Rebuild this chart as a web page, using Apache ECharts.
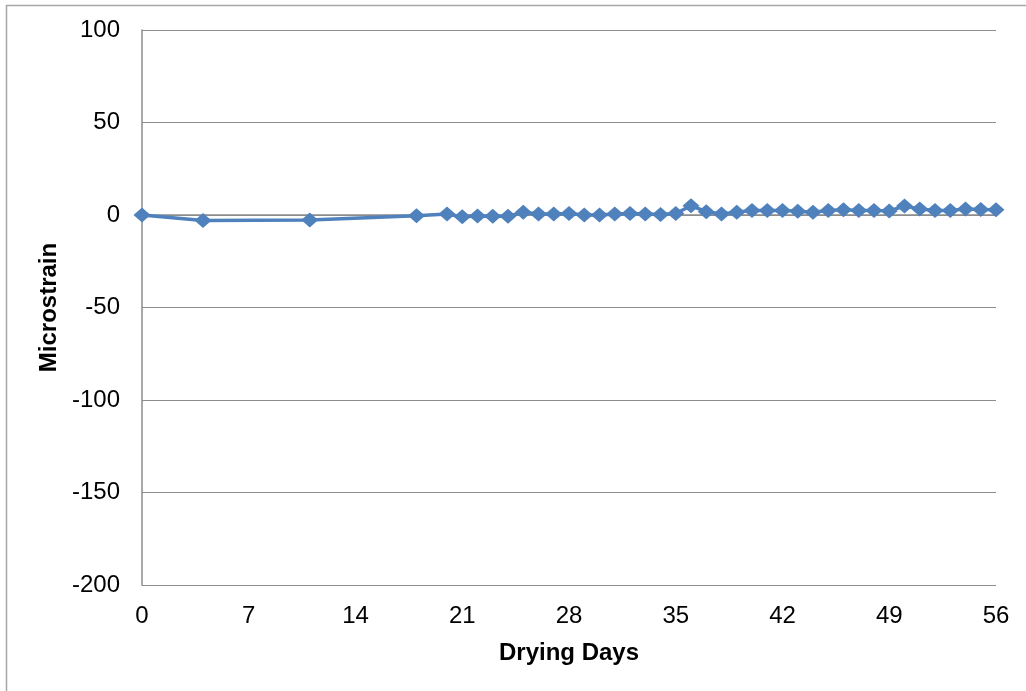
<!DOCTYPE html>
<html>
<head>
<meta charset="utf-8">
<script src="https://cdn.jsdelivr.net/npm/echarts@6/dist/echarts.min.js"></script>
<style>
  html, body { margin: 0; padding: 0; background: #ffffff; }
  #chart { width: 1026px; height: 691px; }
</style>
</head>
<body>
<div id="chart"></div>
<script>
// Drying days at which strain readings were taken
const days = [0, 4, 11, 18, 20, 21, 22, 23, 24, 25, 26, 27, 28, 29, 30, 31, 32, 33, 34, 35,
  36, 37, 38, 39, 40, 41, 42, 43, 44, 45, 46, 47, 48, 49, 50, 51, 52, 53, 54, 55, 56];
// Measured microstrain at each reading
const strain = [0, -3, -2.7, -0.4, 0.5, -1, -0.5, -0.7, -0.7, 1.5, 0.5, 0.5, 0.8, 0, 0, 0.5,
  0.8, 0.5, 0.3, 0.8, 5, 1.8, 0.5, 1.5, 2.5, 2.5, 2.5, 2, 1.5, 2.5, 2.8, 2.5, 2.5, 2.2,
  4.8, 3.3, 2.5, 2.5, 3.3, 3, 2.8];
// Axis ticks
const xTicks = [0, 7, 14, 21, 28, 35, 42, 49, 56];
const yTicks = [-200, -150, -100, -50, 0, 50, 100];

const points = days.map((d, i) => [d, strain[i]]);
const gridColor = '#8c8c8c';
const font = '"Liberation Sans", Arial, sans-serif';

const chart = echarts.init(document.getElementById('chart'), null, { renderer: 'canvas' });
chart.setOption({
  animation: false,
  backgroundColor: '#ffffff',
  graphic: [{
    type: 'rect',
    shape: { x: 6.5, y: 5.5, width: 1040, height: 720 },
    style: { fill: 'none', stroke: '#a6a6a6', lineWidth: 1.5 },
    silent: true
  }],
  grid: { left: 142, top: 30, right: 30, bottom: 106, containLabel: false },
  xAxis: {
    type: 'value',
    min: xTicks[0],
    max: xTicks[xTicks.length - 1],
    interval: 7,
    name: 'Drying Days',
    nameLocation: 'middle',
    nameGap: 56,
    nameTextStyle: { fontFamily: font, fontSize: 24, fontWeight: 'bold', color: '#000' },
    axisLine: { show: true, lineStyle: { color: gridColor, width: 1.5 } },
    axisTick: { show: false },
    axisLabel: { fontFamily: font, fontSize: 24, color: '#000', margin: 19 },
    splitLine: { show: false }
  },
  yAxis: {
    type: 'value',
    min: yTicks[0],
    max: yTicks[yTicks.length - 1],
    interval: 50,
    name: 'Microstrain',
    nameLocation: 'middle',
    nameGap: 81,
    nameTextStyle: { fontFamily: font, fontSize: 24, fontWeight: 'bold', color: '#000' },
    axisLine: { show: true, onZero: false, lineStyle: { color: gridColor, width: 1.5 } },
    axisTick: { show: false },
    axisLabel: { fontFamily: font, fontSize: 24, color: '#000', margin: 22 },
    splitLine: { show: true, lineStyle: { color: gridColor, width: 1.2 } }
  },
  series: [{
    type: 'line',
    data: points,
    symbol: 'diamond',
    symbolSize: [17, 15],
    lineStyle: { color: '#4f81bd', width: 3.5 },
    itemStyle: { color: '#4f81bd' },
    z: 3
  }]
});
</script>
</body>
</html>
